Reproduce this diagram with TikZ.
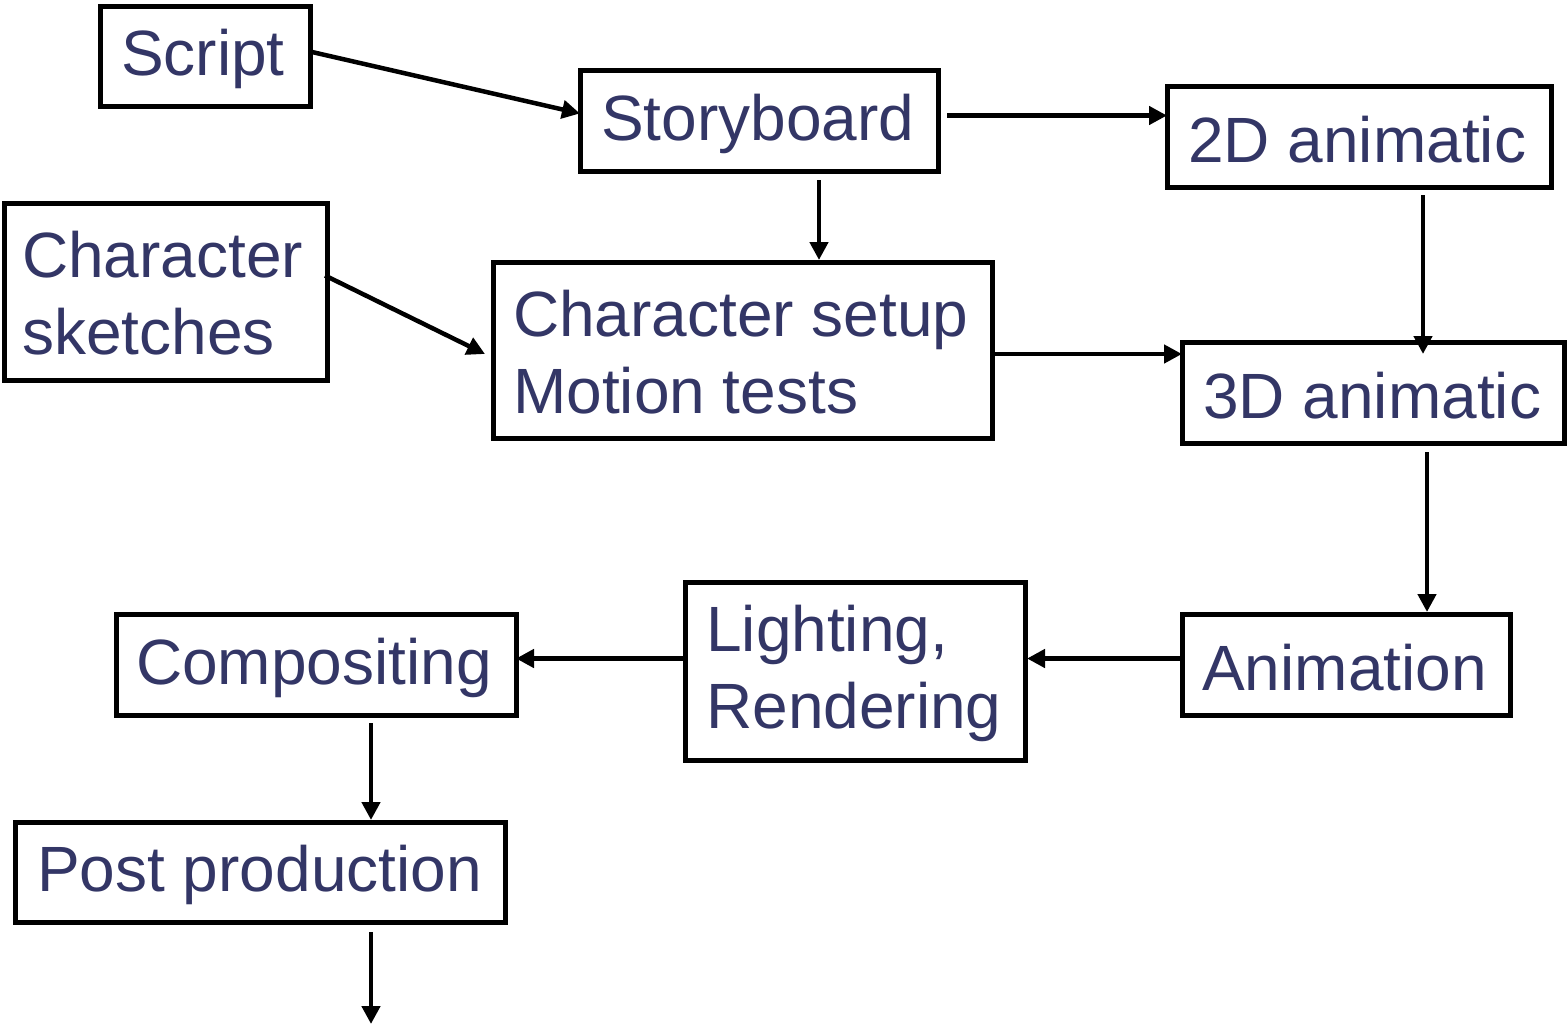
\documentclass[tikz,border=0pt]{standalone}
\usepackage{fontspec}
\setmainfont{Liberation Sans}
\usetikzlibrary{arrows.meta,calc}
\definecolor{txtblue}{RGB}{51,54,102}
\tikzset{
  box/.style={draw=black, line width=5pt, anchor=north west, inner sep=0pt, outer sep=0pt},
  boxtext/.style={anchor=west, align=left, inner sep=0pt, text=txtblue,
    font=\fontsize{64}{77}\selectfont},
  flow/.style={line width=4.5pt, -{Triangle[length=18pt,width=18pt]}},
}
\begin{document}
\begin{tikzpicture}[x=1pt,y=-1pt]
\useasboundingbox[fill=white] (0,0) rectangle (1568,1026);

% boxes, given by the centre lines of their borders
\node[box, minimum width=210, minimum height=100] (script) at (100,6) {};
\node[box, minimum width=358, minimum height=101] (story) at (580,70) {};
\node[box, minimum width=384, minimum height=101] (anim2d) at (1167,86) {};
\node[box, minimum width=323, minimum height=177] (sketch) at (4,203) {};
\node[box, minimum width=499, minimum height=176] (setup) at (493,262) {};
\node[box, minimum width=382, minimum height=101] (anim3d) at (1182,342) {};
\node[box, minimum width=328, minimum height=101] (animation) at (1182,614) {};
\node[box, minimum width=340, minimum height=178] (light) at (685,582) {};
\node[box, minimum width=400, minimum height=101] (comp) at (116,614) {};
\node[box, minimum width=490, minimum height=100] (post) at (15,822) {};

% left-aligned labels inside the boxes
\node[boxtext] (scriptT) at ($(script.west)+(21,3)$) {Script};
\node[boxtext] (storyT) at ($(story.west)+(21,3)$) {Storyboard};
\node[boxtext] (anim2dT) at ($(anim2d.west)+(21,3)$) {2D animatic};
\node[boxtext] (sketchT) at ($(sketch.west)+(18,2)$) {Character\\sketches};
\node[boxtext] (setupT) at ($(setup.west)+(20,2)$) {Character setup\\Motion tests};
\node[boxtext] (anim3dT) at ($(anim3d.west)+(21,3)$) {3D animatic};
\node[boxtext] (animationT) at ($(animation.west)+(20,3)$) {Animation};
\node[boxtext] (lightT) at ($(light.west)+(21,2)$) {Lighting,\\Rendering};
\node[boxtext] (compT) at ($(comp.west)+(20,3)$) {Compositing};
\node[boxtext] (postT) at ($(post.west)+(22,3)$) {Post production};

% connectors
\draw[flow] ($(script.east)+(2,-4)$) -- ($(story.west)+(0,-7)$);
\coordinate (s2a) at ($(story.east)+(9,-5)$);
\draw[flow] (s2a) -- (anim2d.west |- s2a);
\coordinate (s2b) at ($(story.south)+(60,9)$);
\draw[flow] (s2b) -- ($(setup.north -| s2b)+(0,-2)$);
\draw[flow] ($(sketch.east)+(-2,-16)$) -- ($(setup.west)+(-8,4)$);
\coordinate (c2a) at ($(setup.east)+(2,4)$);
\draw[flow] (c2a) -- (anim3d.west |- c2a);
\coordinate (a2a) at ($(anim2d.south)+(64,8)$);
\draw[flow] (a2a) -- ($(anim3d.north -| a2a)+(0,12)$);
\coordinate (a3a) at ($(anim3d.south)+(54,9)$);
\draw[flow] (a3a) -- ($(animation.north -| a3a)+(0,-2)$);
\coordinate (anl) at ($(animation.west)+(0,-6)$);
\draw[flow] (anl) -- ($(light.east |- anl)+(2,0)$);
\coordinate (lcl) at (light.west |- anl);
\draw[flow] (lcl) -- (comp.east |- lcl);
\coordinate (c2p) at ($(comp.south)+(55,8)$);
\draw[flow] (c2p) -- ($(post.north -| c2p)+(0,-2)$);
\coordinate (pend) at ($(post.south)+(111,102)$);
\draw[flow] ($(post.south)+(111,10)$) -- (pend);
\end{tikzpicture}
\end{document}
